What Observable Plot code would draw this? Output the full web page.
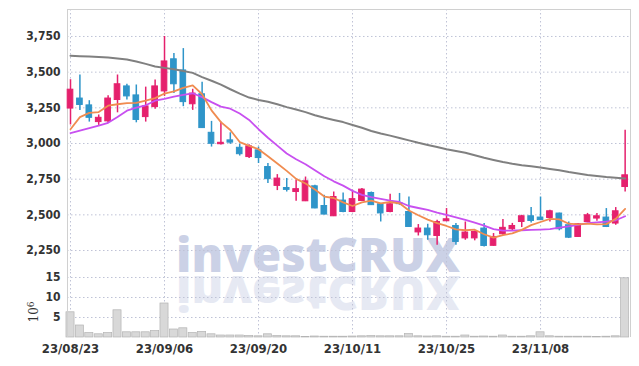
<!DOCTYPE html>
<html><head><meta charset="utf-8">
<script src="https://cdn.jsdelivr.net/npm/d3@7"></script>
<script src="https://cdn.jsdelivr.net/npm/@observablehq/plot@0.6"></script>
<style>
html,body{margin:0;padding:0;background:#fff;}
#chart{position:relative;width:639px;height:366px;overflow:hidden;}
#chart svg{position:absolute;left:0;max-width:none;}
</style></head><body><div id="chart"></div>
<script>
const dates = ["23/08/23","23/08/24","23/08/25","23/08/28","23/08/29","23/08/30","23/08/31",
"23/09/01","23/09/04","23/09/05","23/09/06","23/09/07","23/09/08","23/09/11","23/09/12","23/09/13","23/09/14","23/09/15","23/09/18","23/09/19","23/09/20","23/09/21","23/09/22","23/09/25","23/09/26","23/09/27",
"23/10/04","23/10/05","23/10/06","23/10/10","23/10/11","23/10/12","23/10/13","23/10/16","23/10/17","23/10/18","23/10/19","23/10/20","23/10/23","23/10/24","23/10/25","23/10/26","23/10/27","23/10/30","23/10/31",
"23/11/01","23/11/02","23/11/03","23/11/06","23/11/07","23/11/08","23/11/09","23/11/10","23/11/13","23/11/14","23/11/15","23/11/16","23/11/17","23/11/20","23/11/21"];
const open  = [3245,3315,3267,3150,3155,3305,3400,3337,3185,3255,3365,3590,3512,3275,3345,3075,2995,3022,2970,2905,2952,2835,2703,2688,2660,2595,2700,2562,2490,2600,2520,2597,2653,2574,2520,2583,2520,2377,2404,2352,2455,2422,2335,2335,2404,2283,2364,2399,2450,2490,2481,2478,2509,2427,2345,2450,2474,2481,2439,2695];
const high  = [3447,3480,3300,3200,3335,3480,3415,3410,3395,3445,3750,3630,3665,3380,3430,3155,3150,3075,2995,2992,2975,2860,2782,2755,2742,2765,2707,2637,2660,2653,2672,2684,2660,2580,2644,2650,2625,2432,2434,2462,2544,2440,2450,2387,2440,2369,2467,2440,2497,2551,2625,2532,2512,2450,2440,2510,2509,2544,2551,3092];
const low   = [3130,3232,3150,3127,3140,3215,3305,3145,3150,3240,3330,3350,3258,3232,3105,2975,2990,2994,2912,2895,2860,2720,2670,2660,2595,2593,2542,2500,2488,2515,2515,2595,2566,2450,2515,2567,2413,2352,2322,2287,2453,2287,2322,2318,2275,2280,2357,2387,2411,2443,2460,2450,2388,2334,2342,2446,2455,2411,2427,2660];
const close = [3377,3270,3180,3180,3315,3415,3330,3165,3260,3400,3575,3415,3290,3350,3108,2998,3005,3006,2925,2980,2898,2750,2754,2675,2680,2735,2545,2502,2625,2520,2610,2677,2568,2510,2574,2575,2415,2404,2357,2450,2469,2310,2376,2380,2282,2345,2409,2422,2490,2457,2463,2525,2399,2340,2434,2497,2490,2415,2525,2777];
const ma5   = [3100,3185,3215,3220,3265,3275,3283,3285,3300,3318,3350,3365,3390,3407,3345,3232,3150,3095,3010,2983,2960,2910,2860,2808,2752,2720,2678,2628,2618,2587,2562,2588,2600,2580,2590,2581,2530,2497,2467,2442,2422,2398,2392,2396,2364,2340,2358,2370,2395,2428,2450,2472,2468,2438,2433,2439,2433,2435,2472,2542];
const ma20  = [3073,3090,3108,3125,3145,3185,3230,3252,3268,3300,3312,3328,3340,3352,3325,3290,3258,3244,3210,3165,3100,3040,2985,2930,2890,2855,2812,2770,2735,2705,2668,2640,2625,2612,2600,2590,2562,2548,2535,2515,2500,2482,2465,2445,2425,2400,2390,2390,2392,2395,2397,2400,2410,2420,2430,2442,2447,2452,2462,2490];
const ma60  = [3615,3612,3610,3606,3602,3596,3588,3575,3558,3540,3530,3520,3508,3495,3465,3440,3412,3380,3350,3322,3305,3292,3275,3255,3238,3220,3198,3180,3165,3150,3130,3110,3088,3070,3055,3038,3022,3005,2990,2975,2960,2948,2935,2918,2900,2885,2870,2858,2848,2840,2832,2822,2812,2800,2790,2780,2772,2765,2760,2755];
const volume = [6.3,3.0,1.1,0.8,1.1,6.8,1.3,1.3,1.3,1.6,8.5,2.0,2.3,1.1,1.4,0.8,0.5,0.5,0.5,0.4,0.3,0.8,0.35,0.3,0.3,0.1,0.25,0.2,0.2,0.2,0.25,0.3,0.35,0.3,0.3,0.3,0.85,0.3,0.25,0.3,0.2,0.2,0.5,0.2,0.25,0.2,0.5,0.2,0.2,0.3,1.3,0.3,0.2,0.2,0.2,0.2,0.1,0.2,0.3,14.8];
const priceTicks = [2250,2500,2750,3000,3250,3500,3750];
const volumeTicks = [5,10,15];
const xTickLabels = ["23/08/23","23/09/06","23/09/20","23/10/11","23/10/25","23/11/08"];
const watermark = "investCRUX";
const volumeUnit = ["10","6"];

const idx = d3.range(dates.length);
const xTicks = xTickLabels.map(s => dates.indexOf(s));
const candles = idx.map(i => ({i, o: open[i], h: high[i], l: low[i], c: close[i]}));
const UP = "#e5206d", DOWN = "#2f95c9";
const col = d => d.c >= d.o ? UP : DOWN;
const GRID = "#bfc3d6";
const FONT = "'DejaVu Sans Condensed','Liberation Sans Narrow','Roboto Condensed',sans-serif";
const xDomain = [-0.32, 59.57];

const root = d3.select("#chart");

// watermark background layer
const bg = root.append("svg").attr("width", 639).attr("height", 366).style("top", "0px");
bg.append("text").attr("x", 176).attr("y", 272).text(watermark)
  .attr("font-family", "'Open Sans','DejaVu Sans',sans-serif").attr("font-weight", 800)
  .attr("font-size", 48).attr("textLength", 284).attr("lengthAdjust", "spacingAndGlyphs")
  .attr("fill", "#cbd1e6");
bg.append("text").attr("x", 176).attr("y", 272).text(watermark)
  .attr("transform", "translate(0,548) scale(1,-1)")
  .attr("font-family", "'Open Sans','DejaVu Sans',sans-serif").attr("font-weight", 800)
  .attr("font-size", 48).attr("textLength", 284).attr("lengthAdjust", "spacingAndGlyphs")
  .attr("fill", "#e6e9f3");

const pricePlot = Plot.plot({
  width: 639, height: 272,
  marginLeft: 67, marginRight: 9, marginTop: 9, marginBottom: 0,
  style: {background: "transparent", fontFamily: FONT, fontSize: "12px", color: "#333", fontWeight: "bold"},
  x: {domain: xDomain, axis: null},
  y: {domain: [2096, 3939], ticks: priceTicks, tickFormat: d3.format(","), tickSize: 0, tickPadding: 7, label: null},
  marks: [
    Plot.ruleY(priceTicks, {stroke: GRID, strokeDasharray: "1.5,2.5"}),
    Plot.ruleX(xTicks, {stroke: GRID, strokeDasharray: "1.5,2.5"}),
    Plot.frame({stroke: "#d0d0d0"}),
    Plot.ruleX(candles, {x: "i", y1: "l", y2: "h", stroke: col, strokeWidth: 1.5}),
    Plot.rect(candles, {x1: d => d.i - 0.3, x2: d => d.i + 0.3, y1: "o", y2: "c", fill: col, stroke: col, strokeWidth: 1}),
    Plot.line(idx, {x: i => i, y: i => ma60[i], stroke: "#808080", strokeWidth: 2}),
    Plot.line(idx, {x: i => i, y: i => ma20[i], stroke: "#c850f0", strokeWidth: 1.8}),
    Plot.line(idx, {x: i => i, y: i => ma5[i], stroke: "#f08c50", strokeWidth: 1.8})
  ]
});
pricePlot.style.top = "0px";
root.node().appendChild(pricePlot);

// volume panel: svg starts 12px above the panel so the top tick label is not clipped
const volPlot = Plot.plot({
  width: 639, height: 106,
  marginLeft: 67, marginRight: 9, marginTop: 12, marginBottom: 29,
  style: {background: "transparent", fontFamily: FONT, fontSize: "12px", color: "#333", fontWeight: "bold"},
  x: {domain: xDomain, ticks: xTicks, tickFormat: i => dates[i], tickSize: 0, tickPadding: 6, label: null},
  y: {domain: [0, 16.25], ticks: volumeTicks, tickSize: 0, tickPadding: 7, label: null},
  marks: [
    Plot.ruleY(volumeTicks, {stroke: GRID, strokeDasharray: "1.5,2.5"}),
    Plot.ruleX(xTicks, {stroke: GRID, strokeDasharray: "1.5,2.5"}),
    Plot.rect(idx, {x1: i => i - 0.43, x2: i => i + 0.43, y1: 0, y2: i => volume[i], fill: "#d8d8d8", stroke: "#b4b4b4", strokeWidth: 0.7}),
    Plot.ruleX(xDomain, {stroke: "#d0d0d0"})
  ]
});
volPlot.style.top = "260px";
root.node().appendChild(volPlot);
d3.select(volPlot).selectAll("g[aria-label='x-axis tick label'] text, g[aria-label='x-axis'] text").style("font-size", "13px");

const unit = d3.select(volPlot).append("text")
  .attr("transform", "translate(38,52) rotate(-90)")
  .attr("font-family", "'DejaVu Serif','Liberation Serif',serif").attr("font-size", 12).attr("fill", "#333").attr("font-weight", "normal");
unit.append("tspan").text(volumeUnit[0]);
unit.append("tspan").attr("dy", -4).attr("font-size", 9).text(volumeUnit[1]);
</script></body></html>
